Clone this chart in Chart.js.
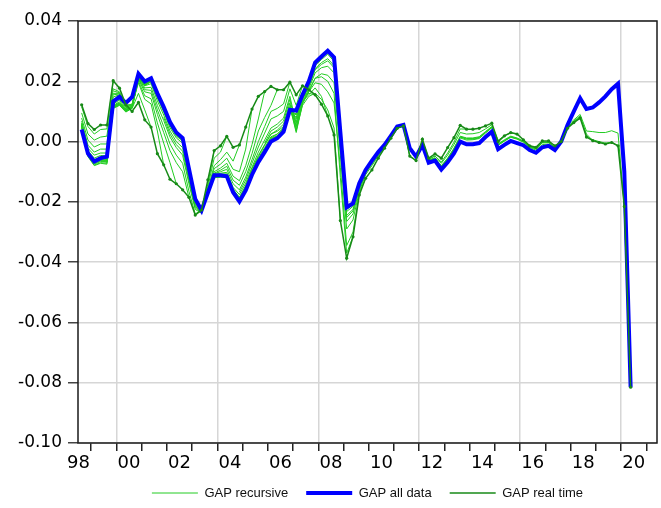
<!DOCTYPE html>
<html>
<head>
<meta charset="utf-8">
<script src="https://cdn.jsdelivr.net/npm/chart.js@4.4.0/dist/chart.umd.min.js"></script>
<style>
  html, body { margin: 0; padding: 0; background: #fff; }
  #wrap { width: 661px; height: 508px; }
</style>
</head>
<body>
<div id="wrap"><canvas id="gapChart"></canvas></div>
<script>
// quarterly observations
const quarters = [
  "1998Q3","1998Q4",
  "1999Q1","1999Q2","1999Q3","1999Q4","2000Q1","2000Q2","2000Q3","2000Q4",
  "2001Q1","2001Q2","2001Q3","2001Q4","2002Q1","2002Q2","2002Q3","2002Q4",
  "2003Q1","2003Q2","2003Q3","2003Q4","2004Q1","2004Q2","2004Q3","2004Q4",
  "2005Q1","2005Q2","2005Q3","2005Q4","2006Q1","2006Q2","2006Q3","2006Q4",
  "2007Q1","2007Q2","2007Q3","2007Q4","2008Q1","2008Q2","2008Q3","2008Q4",
  "2009Q1","2009Q2","2009Q3","2009Q4","2010Q1","2010Q2","2010Q3","2010Q4",
  "2011Q1","2011Q2","2011Q3","2011Q4","2012Q1","2012Q2","2012Q3","2012Q4",
  "2013Q1","2013Q2","2013Q3","2013Q4","2014Q1","2014Q2","2014Q3","2014Q4",
  "2015Q1","2015Q2","2015Q3","2015Q4","2016Q1","2016Q2","2016Q3","2016Q4",
  "2017Q1","2017Q2","2017Q3","2017Q4","2018Q1","2018Q2","2018Q3","2018Q4",
  "2019Q1","2019Q2","2019Q3","2019Q4","2020Q1","2020Q2"
];

const yearLabels = ["98","00","02","04","06","08","10","12","14","16","18","20"];
const yTicks = [0.04, 0.02, 0.00, -0.02, -0.04, -0.06, -0.08, -0.10];

// GAP all data (1998Q3 - 2020Q2)
const gapAllData = [
  .0040, -.0040,
  -.0066, -.0055, -.0050, .0133,   .0148, .0128, .0148, .0225,
  .0199, .0210, .0160, .0115,   .0065, .0030, .0012, -.0090,
  -.0190, -.0228, -.0170, -.0112,   -.0112, -.0115, -.0168, -.0199,
  -.0162, -.0110, -.0068, -.0035,   .0000, .0011, .0033, .0105,
  .0103, .0155, .0200, .0262,   .0282, .0301, .0279, .0030,
  -.0218, -.0205, -.0138, -.0094,   -.0063, -.0035, -.0011, .0019,
  .0050, .0055, -.0022, -.0050,   -.0011, -.0070, -.0063, -.0093,
  -.0069, -.0039, .0000, -.0009,   -.0009, -.0005, .0015, .0033,
  -.0025, -.0011, .0002, -.0005,   -.0012, -.0028, -.0037, -.0019,
  -.0014, -.0028, .0000, .0055,   .0100, .0144, .0108, .0113,
  .0130, .0150, .0174, .0192,   -.0100, -.0815
];

// GAP real time (1998Q3 - 2020Q2)
const gapRealTime = [
  .0122, .0060,
  .0040, .0055, .0055, .0202,   .0177, .0122, .0100, .0130,
  .0072, .0048, -.0040, -.0077,   -.0125, -.0140, -.0160, -.0185,
  -.0244, -.0227, -.0127, -.0030,   -.0014, .0017, -.0019, -.0011,
  .0048, .0108, .0150, .0166,   .0183, .0172, .0172, .0197,
  .0155, .0185, .0172, .0155,   .0124, .0085, .0022, -.0262,
  -.0387, -.0316, -.0177, -.0122,   -.0094, -.0055, -.0022, .0011,
  .0044, .0052, -.0048, -.0063,   .0008, -.0055, -.0041, -.0055,
  -.0020, .0013, .0054, .0041,   .0041, .0044, .0052, .0061,
  .0000, .0019, .0030, .0025,   .0006, -.0014, -.0019, .0002,
  .0002, -.0014, .0000, .0044,   .0063, .0078, .0015, .0003,
  -.0003, -.0008, -.0003, -.0014,   -.0215, -.0815
];

// GAP recursive: one estimate per vintage, each listed from its first plotted quarter
const rec1999Q4 = [.0115, .0050, .0025, .0040, .0042, .0202];
const rec2000Q4 = [.0095, .0025, .0005, .0015, .0018, .0175, .0165, .0115, .0100, .0130];
const rec2001Q2 = [.0168, .0162, .0118, .0110, .0160, .0105, .0048];
const rec2001Q4 = [.0078, .0005, -.0018, -.0008, -.0008, .0160, .0160, .0122, .0120, .0195,
  .0140, .0125, .0035, -.0077];
const rec2002Q2 = [.0155, .0158, .0120, .0122, .0200, .0152, .0142, .0062, -.0005, -.0070, -.0140];
const rec2002Q4 = [.0068, -.0012, -.0035, -.0025, -.0025, .0148, .0155, .0118, .0125, .0205,
  .0165, .0160, .0090, .0030, -.0030, -.0070, -.0100, -.0185];
const rec2003Q2 = [.0208, .0172, .0170, .0105, .0050, -.0008, -.0045, -.0072, -.0165, -.0240, -.0227];
const rec2003Q4 = [.0062, -.0022, -.0045, -.0038, -.0038, .0135, .0145, .0112, .0122, .0210,
  .0178, .0180, .0120, .0070, .0015, -.0020, -.0045, -.0140, -.0225, -.0238,
  -.0140, -.0030];
const rec2004Q2 = [.0080, .0025, -.0010, -.0032, -.0130, -.0220, -.0237, -.0150, -.0055, -.0035, .0017];
const rec2004Q4 = [.0058, -.0030, -.0055, -.0046, -.0048, .0125, .0138, .0108, .0120, .0215,
  .0185, .0192, .0135, .0088, .0035, .0000, -.0020, -.0120, -.0215, -.0236,
  -.0160, -.0080, -.0060, -.0035, -.0065, -.0011];
const rec2005Q2 = [-.0115, -.0212, -.0235, -.0163, -.0090, -.0075, -.0055, -.0092, -.0100, -.0025, .0108];
const rec2005Q4 = [.0056, -.0035, -.0060, -.0052, -.0055, .0120, .0132, .0105, .0117, .0217,
  .0188, .0198, .0145, .0098, .0046, .0012, -.0005, -.0110, -.0208, -.0234,
  -.0168, -.0100, -.0088, -.0072, -.0115, -.0130, -.0080, -.0010, .0075, .0166];
const rec2006Q2 = [-.0105, -.0095, -.0082, -.0128, -.0145, -.0100, -.0040, .0035, .0080, .0120, .0172];
const rec2006Q4 = [.0055, -.0040, -.0065, -.0056, -.0060, .0117, .0128, .0104, .0116, .0217,
  .0189, .0200, .0150, .0103, .0052, .0018, .0002, -.0103, -.0203, -.0233,
  -.0170, -.0107, -.0100, -.0092, -.0140, -.0160, -.0118, -.0060, .0000, .0050,
  .0100, .0110, .0125, .0197];
const rec2007Q2 = [-.0168, -.0128, -.0072, -.0018, .0028, .0075, .0085, .0100, .0175, .0120, .0185];
const rec2007Q4 = [.0054, -.0042, -.0068, -.0060, -.0064, .0114, .0125, .0102, .0114, .0215,
  .0188, .0200, .0151, .0105, .0055, .0021, .0004, -.0100, -.0200, -.0232,
  -.0172, -.0110, -.0105, -.0102, -.0152, -.0176, -.0138, -.0085, -.0035, .0005,
  .0045, .0058, .0078, .0150, .0060, .0150, .0160, .0155];
const rec2008Q2 = [-.0005, .0035, .0048, .0068, .0140, .0050, .0135, .0155, .0178, .0150, .0085];
const rec2008Q4 = [.0053, -.0044, -.0070, -.0062, -.0066, .0112, .0123, .0101, .0113, .0213,
  .0187, .0201, .0152, .0106, .0057, .0023, .0006, -.0097, -.0197, -.0231,
  -.0172, -.0112, -.0108, -.0107, -.0158, -.0185, -.0148, -.0097, -.0050, -.0012,
  .0025, .0038, .0058, .0128, .0040, .0120, .0150, .0160, .0140, .0105,
  .0045, -.0262];
const rec2009Q2 = [.0120, .0035, .0130, .0170, .0210, .0215, .0200, .0160, -.0120, -.0370, -.0316];
const rec2009Q4 = [.0052, -.0046, -.0072, -.0064, -.0068, .0112, .0122, .0100, .0112, .0212,
  .0187, .0201, .0152, .0107, .0058, .0024, .0007, -.0095, -.0195, -.0230,
  -.0172, -.0113, -.0110, -.0110, -.0162, -.0192, -.0155, -.0104, -.0060, -.0025,
  .0012, .0025, .0046, .0116, .0030, .0125, .0165, .0195, .0190, .0165,
  .0128, -.0085, -.0345, -.0300, -.0170, -.0122];
const rec2010Q4 = [-.0178, -.0120, -.0118, -.0116, -.0160, -.0186, -.0146, -.0090, -.0046, -.0010,
  .0025, .0034, .0050, .0110, .0050, .0128, .0165, .0210, .0225, .0220,
  .0195, -.0045, -.0290, -.0260, -.0165, -.0110, -.0080, -.0048, -.0020, .0011];
const rec2011Q4 = [.0060, -.0040, -.0070, -.0060, -.0062, .0118, .0128, .0106, .0118, .0218,
  .0192, .0207, .0157, .0110, .0060, .0026, .0008, -.0097, -.0197, -.0233,
  -.0175, -.0115, -.0112, -.0112, -.0162, -.0190, -.0152, -.0098, -.0055, -.0020,
  .0016, .0025, .0043, .0106, .0065, .0135, .0175, .0228, .0245, .0250,
  .0228, -.0015, -.0265, -.0240, -.0160, -.0105, -.0075, -.0046, -.0018, .0014,
  .0046, .0052, -.0050, -.0063];
const rec2013Q4 = [.0055, -.0045, -.0075, -.0066, -.0068, .0115, .0125, .0103, .0115, .0215,
  .0190, .0205, .0155, .0110, .0062, .0028, .0010, -.0093, -.0193, -.0229,
  -.0172, -.0113, -.0112, -.0114, -.0166, -.0196, -.0158, -.0105, -.0062, -.0028,
  .0008, .0018, .0038, .0104, .0075, .0142, .0185, .0242, .0262, .0275,
  .0252, .0005, -.0245, -.0225, -.0150, -.0100, -.0070, -.0042, -.0016, .0016,
  .0048, .0055, -.0022, -.0046, -.0002, -.0058, -.0048, -.0068, -.0038, -.0002,
  .0042, .0041];
const rec2015Q4 = [.0010, .0020, .0040, .0105, .0080, .0140, .0182, .0238, .0256, .0268,
  .0245, .0000, -.0252, -.0230, -.0153, -.0102, -.0071, -.0043, -.0016, .0016,
  .0048, .0056, -.0020, -.0046, -.0002, -.0058, -.0048, -.0072, -.0045, -.0010,
  .0030, .0025, .0026, .0030, .0042, .0056, .0004, .0020, .0028, .0025];
const rec2017Q4 = [.0050, -.0048, -.0078, -.0070, -.0072, .0112, .0122, .0100, .0112, .0212,
  .0188, .0202, .0152, .0108, .0060, .0027, .0010, -.0093, -.0193, -.0230,
  -.0173, -.0115, -.0115, -.0118, -.0170, -.0200, -.0163, -.0110, -.0067, -.0034,
  .0002, .0013, .0034, .0102, .0088, .0148, .0192, .0252, .0272, .0290,
  .0266, .0018, -.0232, -.0215, -.0143, -.0097, -.0068, -.0040, -.0014, .0017,
  .0049, .0056, -.0020, -.0048, -.0006, -.0064, -.0057, -.0085, -.0060, -.0028,
  .0012, .0005, .0006, .0010, .0028, .0046, -.0012, .0002, .0015, .0010,
  .0000, -.0018, -.0024, -.0004, -.0003, -.0022, .0002, .0044];
const rec2018Q4 = [-.0062, -.0054, -.0080, -.0055, -.0022, .0018, .0012, .0012, .0016, .0033,
  .0050, -.0008, .0006, .0018, .0012, .0002, -.0016, -.0022, -.0002, -.0001,
  -.0020, .0001, .0046, .0068, .0085, .0025, .0003];
const rec2019Q4 = [-.0062, -.0055, -.0082, -.0057, -.0024, .0016, .0010, .0010, .0014, .0032,
  .0048, -.0010, .0004, .0016, .0010, .0000, -.0018, -.0024, -.0004, -.0003,
  -.0022, .0000, .0048, .0066, .0082, .0018, .0006, .0000, -.0005, -.0002,
  -.0014];
const rec2020Q1 = [.0045, -.0050, -.0080, -.0072, -.0075, .0110, .0120, .0098, .0110, .0210,
  .0185, .0200, .0150, .0105, .0058, .0025, .0008, -.0095, -.0195, -.0232,
  -.0175, -.0118, -.0118, -.0120, -.0172, -.0202, -.0165, -.0113, -.0070, -.0037,
  -.0002, .0009, .0030, .0100, .0092, .0150, .0195, .0257, .0277, .0295,
  .0272, .0025, -.0225, -.0210, -.0140, -.0095, -.0068, -.0040, -.0015, .0017,
  .0050, .0057, -.0018, -.0045, -.0003, -.0062, -.0055, -.0083, -.0058, -.0025,
  .0015, .0008, .0008, .0012, .0030, .0047, -.0012, .0002, .0014, .0008,
  -.0002, -.0020, -.0028, -.0010, -.0008, -.0030, -.0005, .0052, .0072, .0090,
  .0035, .0033, .0030, .0030, .0036, .0028, -.0215];

// [first quarter, values]
const recursiveVintages = [
  ["1998Q3", rec1999Q4], ["1998Q3", rec2000Q4], ["1999Q4", rec2001Q2],
  ["1998Q3", rec2001Q4], ["1999Q4", rec2002Q2], ["1998Q3", rec2002Q4],
  ["2000Q4", rec2003Q2], ["1998Q3", rec2003Q4], ["2001Q4", rec2004Q2],
  ["1998Q3", rec2004Q4], ["2002Q4", rec2005Q2], ["1998Q3", rec2005Q4],
  ["2003Q4", rec2006Q2], ["1998Q3", rec2006Q4], ["2004Q4", rec2007Q2],
  ["1998Q3", rec2007Q4], ["2005Q4", rec2008Q2], ["1998Q3", rec2008Q4],
  ["2006Q4", rec2009Q2], ["1998Q3", rec2009Q4], ["2003Q3", rec2010Q4],
  ["1998Q3", rec2011Q4], ["1998Q3", rec2013Q4], ["2006Q1", rec2015Q4],
  ["1998Q3", rec2017Q4], ["2012Q2", rec2018Q4], ["2012Q2", rec2019Q4],
  ["1998Q3", rec2020Q1]
];

// quarter -> position on a year axis (middle of the quarter)
function qpos(q) {
  return +q.slice(0, 4) + (+q.slice(5) - 0.5) / 4;
}
function toPoints(startQ, values) {
  const s = quarters.indexOf(startQ);
  return values.map((v, i) => ({ x: qpos(quarters[s + i]), y: v }));
}

const labelTicks = yearLabels.map((l, i) => 1998.5 + 2 * i);
const yearTicks = [];
for (let y = 1999; y <= 2021; y++) yearTicks.push(y);
const xTicks = yearTicks.concat(labelTicks).sort((a, b) => a - b);

const green = "#22cc22";
const darkGreen = "#178a17";
const blue = "#0000ff";
const gridGray = "#d6d6d6";

const datasets = recursiveVintages.map(([start, vals], i) => ({
  label: i === 0 ? "GAP recursive" : "",
  data: toPoints(start, vals),
  borderColor: green,
  backgroundColor: green,
  borderWidth: 1,
  pointRadius: 0,
  order: 2
}));
datasets.push({
  label: "GAP all data",
  data: toPoints("1998Q3", gapAllData),
  borderColor: blue,
  backgroundColor: blue,
  borderWidth: 4,
  pointRadius: 0,
  order: 1
});
datasets.push({
  label: "GAP real time",
  data: toPoints("1998Q3", gapRealTime),
  borderColor: darkGreen,
  backgroundColor: darkGreen,
  pointBackgroundColor: darkGreen,
  borderWidth: 1.5,
  pointRadius: 1.6,
  pointBorderWidth: 0,
  order: 0
});

const framePlugin = {
  id: "frame",
  afterDatasetsDraw(chart) {
    const a = chart.chartArea, ctx = chart.ctx;
    ctx.save();
    ctx.strokeStyle = "#1a1a1a";
    ctx.lineWidth = 1.5;
    ctx.strokeRect(a.left, a.top, a.right - a.left, a.bottom - a.top);
    ctx.restore();
  }
};

new Chart(document.getElementById("gapChart"), {
  type: "line",
  data: { datasets },
  plugins: [framePlugin],
  options: {
    responsive: true,
    maintainAspectRatio: false,
    animation: false,
    devicePixelRatio: 1,
    layout: { padding: { top: 21, right: 4, bottom: 0, left: 0 } },
    elements: { line: { tension: 0 } },
    scales: {
      x: {
        type: "linear",
        min: 1998.48,
        max: 2021.42,
        border: { display: false },
        afterBuildTicks: (axis) => { axis.ticks = xTicks.map(v => ({ value: v })); },
        afterFit: (scale) => { scale.height = 25.5; },
        grid: {
          color: (c) => (c.tick && Number.isInteger(c.tick.value) && c.tick.value % 4 === 0) ? gridGray : "transparent",
          tickColor: (c) => (c.tick && Number.isInteger(c.tick.value)) ? "#222" : "transparent",
          lineWidth: 1.5,
          tickWidth: 1.5,
          tickLength: 8
        },
        ticks: {
          autoSkip: false,
          maxRotation: 0,
          padding: 2,
          color: "#000",
          font: { family: "DejaVu Sans", size: 18 },
          callback: (v) => {
            const i = labelTicks.indexOf(v);
            return i >= 0 ? yearLabels[i] : "";
          }
        }
      },
      y: {
        min: -0.10,
        max: 0.04,
        border: { display: false },
        afterBuildTicks: (axis) => { axis.ticks = yTicks.map(v => ({ value: v })); },
        afterFit: (scale) => { scale.width = 78; },
        grid: {
          color: gridGray,
          lineWidth: 1.5,
          tickColor: "#444",
          tickWidth: 1.5,
          tickLength: 10
        },
        ticks: {
          padding: 6,
          color: "#000",
          font: { family: "DejaVu Sans", size: 17 },
          callback: (v) => v.toFixed(2)
        }
      }
    },
    plugins: {
      tooltip: { enabled: false },
      legend: {
        position: "bottom",
        fullSize: false,
        maxHeight: 39.5,
        labels: {
          usePointStyle: true,
          pointStyle: "line",
          pointStyleWidth: 46,
          padding: 18,
          color: "#111",
          font: { family: "Liberation Sans", size: 13 },
          filter: (item) => item.text !== "",
          sort: (a, b) => a.datasetIndex - b.datasetIndex,
          generateLabels: (chart) => {
            const items = Chart.defaults.plugins.legend.labels.generateLabels(chart);
            items.forEach((it) => {
              const ds = chart.data.datasets[it.datasetIndex];
              it.lineWidth = ds.borderWidth;
              it.strokeStyle = ds.borderColor;
            });
            return items;
          }
        }
      }
    }
  }
});
</script>
</body>
</html>
